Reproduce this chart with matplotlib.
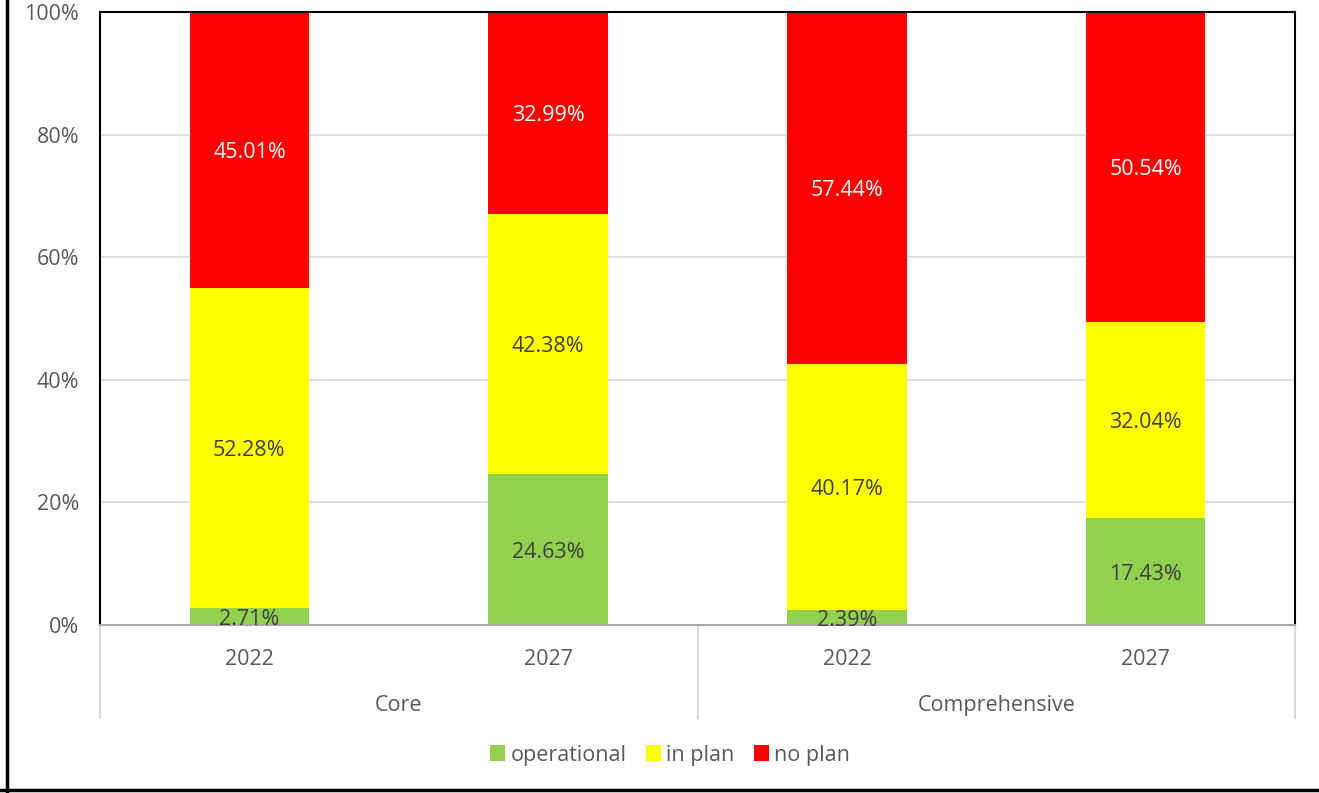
import matplotlib
matplotlib.use("Agg")
import matplotlib.pyplot as plt
from matplotlib.lines import Line2D
from matplotlib.patches import Patch
import numpy as np

years = ["2022", "2027", "2022", "2027"]
groups = ["Core", "Comprehensive"]
operational = [2.71, 24.63, 2.39, 17.43]
in_plan = [52.28, 42.38, 40.17, 32.04]
no_plan = [45.01, 32.99, 57.44, 50.54]
series_names = ["operational", "in plan", "no plan"]
colors = ["#92D050", "#FFFF00", "#FF0000"]
label_colors = ["#404040", "#404040", "#FFFFFF"]
yticks = [0, 20, 40, 60, 80, 100]

plt.rcParams['font.family'] = ['Open Sans', 'DejaVu Sans']
FS = 15.5
W, H = 1319, 793
fig = plt.figure(figsize=(W / 100, H / 100), dpi=100)
ax = fig.add_axes([100 / W, 1 - 625 / H, (1295 - 100) / W, (625 - 12) / H])

x = np.arange(len(years))
bottom = np.zeros(len(years))
for vals, c, lc in zip([operational, in_plan, no_plan], colors, label_colors):
    vals = np.array(vals)
    ax.bar(x, vals, 0.4, bottom=bottom, color=c, zorder=2)
    for xi, b, v in zip(x, bottom, vals):
        ax.text(xi, b + v / 2, f"{v:.2f}%", ha="center", va="center_baseline",
                fontsize=FS, color=lc, zorder=3)
    bottom = bottom + vals

ax.set_xlim(-0.5, len(years) - 0.5)
ax.set_ylim(0, 100)
ax.set_yticks(yticks)
ax.set_yticklabels([f"{t}%" for t in yticks], fontsize=FS, color="#595959")
ax.tick_params(axis="y", length=0, pad=15)
ax.set_xticks([])
ax.yaxis.grid(True, color="#D9D9D9", linewidth=1.2, zorder=0)
ax.set_axisbelow(True)
for s in ["left", "top", "right"]:
    ax.spines[s].set_color("black")
    ax.spines[s].set_linewidth(1.5)
ax.spines["bottom"].set_color("#A6A6A6")
ax.spines["bottom"].set_linewidth(1.5)

trans = ax.get_xaxis_transform()
axh = 625 - 12
for xi, yl in zip(x, years):
    ax.text(xi, -32 / axh, yl, transform=trans, ha="center", va="center_baseline",
            fontsize=FS, color="#595959")
for gi, g in enumerate(groups):
    ax.text(gi * 2 + 0.5, -78 / axh, g, transform=trans, ha="center", va="center_baseline",
            fontsize=FS, color="#595959")
for xs in [-0.5, 1.5, 3.5]:
    ax.plot([xs, xs], [0, -93 / axh], transform=trans, color="#D9D9D9",
            linewidth=1.5, clip_on=False)

handles = [Patch(facecolor=c, edgecolor="none") for c in colors]
leg = fig.legend(handles, series_names, loc="center", bbox_to_anchor=(670 / W, 1 - 755 / H),
                 ncol=3, frameon=False, fontsize=FS, handlelength=0.7, handleheight=0.7,
                 handletextpad=0.25, columnspacing=0.9)
for t in leg.get_texts():
    t.set_color("#595959")

fig.add_artist(Line2D([7 / W, 7 / W], [0, 1], transform=fig.transFigure, color="black", linewidth=2.5))
fig.add_artist(Line2D([0, 1], [1 - 790 / H, 1 - 790 / H], transform=fig.transFigure, color="black", linewidth=2.5))

fig.savefig("out.png", dpi=100)
